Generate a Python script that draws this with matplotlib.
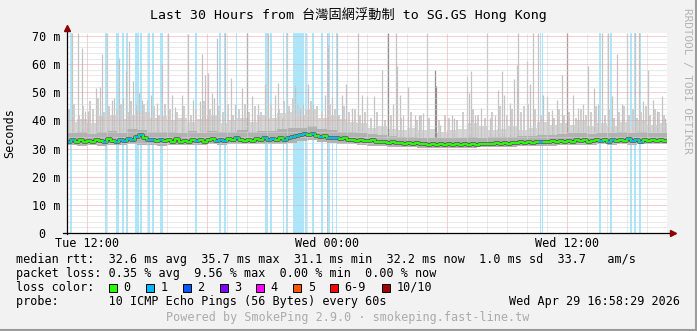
import numpy as np
import matplotlib
matplotlib.use("Agg")
import matplotlib.pyplot as plt
from matplotlib.patches import Rectangle

W, H = 697, 331
MONO = "DejaVu Sans Mono"

# hours since Tue 11:00, 30 h window
median_rtt = [
    32.4, 32.9, 32.3, 33.1, 32.5, 32.8, 32.2, 33.0, 32.6, 32.4, 33.3, 32.7, 32.5,
    33.0, 32.8, 33.4, 32.9, 34.0, 34.8, 33.6, 32.9, 33.2, 32.6, 33.1, 32.7,
    32.9, 32.5, 33.3, 32.4, 32.8, 32.3, 33.0, 32.6, 33.2, 32.5, 32.9, 33.5, 32.8,
    33.1, 32.6, 33.3, 32.9, 33.6, 33.0, 32.7, 33.2, 32.8, 33.5, 33.1, 33.6,
    33.0, 33.4, 32.9, 33.7, 33.2, 33.8, 34.3, 34.6, 34.9, 35.3, 34.8, 35.1, 34.5,
    34.2, 34.4, 33.9, 33.6, 33.9, 33.3, 33.6, 33.0, 33.2, 32.8, 33.1, 32.7,
    32.6, 32.9, 32.4, 32.2, 32.5, 32.0, 32.3, 31.9, 32.1, 31.8, 32.0, 31.6, 31.9,
    31.5, 31.7, 31.4, 31.6, 31.3, 31.5, 31.4, 31.6, 31.3, 31.5, 31.4, 31.6,
    31.4, 31.6, 31.3, 31.7, 31.5, 31.8, 31.6, 31.9, 31.7, 32.0, 31.8, 32.1, 31.9,
    32.2, 32.0, 32.3, 32.1, 32.4, 32.2, 32.5, 32.3, 32.6, 32.4, 32.8, 32.5,
    32.7, 32.4, 32.9, 32.6, 33.0, 32.5, 32.8, 33.1, 32.6, 32.9, 32.4, 33.2, 32.7,
    33.0, 32.6, 33.3, 32.8, 33.1, 32.5, 33.0, 32.7, 33.2, 32.6, 32.9, 32.8,
]

# smoke envelope per half hour
smoke_light_top = [
    39.5, 40.5, 39.0, 41.5, 42.0, 40.5, 42.0, 43.0, 41.0, 41.5,
    40.0, 41.0, 39.5, 40.5, 42.0, 39.0, 40.0, 41.0, 39.5, 42.0,
    41.0, 42.5, 43.0, 42.0, 44.0, 41.0, 42.0, 40.5, 39.5, 39.0,
    37.5, 38.0, 37.0, 36.5, 37.5, 36.5, 37.0, 36.0, 36.5, 37.0,
    39.0, 38.0, 36.5, 37.0, 38.0, 36.5, 37.5, 39.5, 38.5, 39.0,
    38.5, 40.0, 38.0, 39.0, 38.0, 39.5, 38.0, 40.0, 38.5, 39.0,
]
smoke_mid_top = [
    35.5, 35.8, 35.2, 36.0, 36.2, 35.6, 37.0, 36.5, 35.8, 36.0,
    36.0, 35.5, 36.2, 35.7, 36.4, 35.8, 36.0, 36.5, 35.9, 36.4,
    36.2, 36.8, 37.2, 37.5, 38.0, 37.0, 36.5, 36.0, 35.8, 35.5,
    35.2, 34.8, 34.5, 34.2, 34.0, 33.8, 33.9, 33.7, 33.8, 33.9,
    34.0, 33.9, 34.1, 34.3, 34.2, 34.5, 34.6, 34.8, 35.0, 35.2,
    35.4, 35.6, 35.3, 35.7, 35.5, 35.8, 35.4, 35.9, 35.6, 35.7,
]
smoke_low = [
    31.2, 31.0, 31.3, 31.1, 31.2, 31.4, 31.5, 31.2, 31.3, 31.1,
    31.3, 31.2, 31.4, 31.3, 31.5, 31.4, 31.5, 31.6, 31.5, 31.7,
    31.6, 31.8, 32.0, 32.6, 33.0, 32.5, 32.0, 31.7, 31.5, 31.3,
    31.1, 30.9, 30.7, 30.6, 30.4, 30.3, 30.3, 30.2, 30.3, 30.2,
    30.3, 30.4, 30.4, 30.6, 30.7, 30.8, 30.9, 31.0, 31.1, 31.2,
    31.3, 31.4, 31.3, 31.5, 31.4, 31.5, 31.4, 31.6, 31.5, 31.5,
]

# moderate smoke tops
grass_h = [
    0.10, 0.35, 0.62, 0.82, 1.15, 1.30, 1.55, 1.85, 2.10, 2.50, 2.70, 3.05, 3.20,
    3.50, 3.85, 4.10, 4.35, 4.60, 4.90, 5.15, 5.50, 5.85, 6.20, 6.45, 6.85, 7.15,
    7.60, 7.80, 8.05, 8.30, 8.60, 8.90, 9.10, 9.40, 9.70, 10.20, 10.60, 10.85,
    11.10, 11.30, 11.55, 11.95, 12.20, 12.50, 12.75, 13.15, 13.40, 13.60, 13.85,
    14.10, 14.40, 14.65, 14.90,
    15.20, 15.50, 15.90, 16.20, 16.70, 17.20, 17.50, 17.70, 18.10, 18.60, 18.90,
    19.10, 19.50, 19.80, 20.30, 20.55, 20.90, 21.25, 21.65, 22.00, 22.25, 22.70,
    22.85, 23.05, 23.40, 23.70, 24.10, 24.35, 24.60, 24.85, 25.10, 25.45, 25.70,
    25.95, 26.20, 26.45, 26.90, 27.10, 27.35, 27.60, 27.85, 28.10, 28.30, 28.50,
    28.70, 28.95, 29.15, 29.40, 29.60, 29.85,
]
grass_top = [
    44, 46, 42, 45, 47, 44, 48, 43, 45, 44, 46, 43, 47,
    44, 46, 43, 45, 42, 46, 44, 43, 45, 42, 44, 47, 44,
    45, 43, 46, 42, 44, 46, 43, 45, 43, 46, 44, 47,
    45, 48, 46, 44, 47, 45, 43, 46, 44, 42, 45,
    43, 44, 42, 43,
    41, 43, 40, 42, 41, 43, 40, 42, 41, 40, 42,
    41, 40, 43, 44, 42, 41, 43, 45, 42, 44, 43,
    45, 46, 44, 42, 43, 41, 44, 42, 43, 41, 44,
    42, 43, 45, 42, 44, 41, 43, 45, 42, 44, 41,
    43, 45, 42, 44, 43, 42,
]

# single high pings
spike_h = [
    0.24, 0.54, 0.74, 0.90, 1.05, 1.45, 1.65, 1.74, 1.99, 2.24, 2.35, 2.60, 2.80,
    2.94, 3.10, 3.30, 3.44, 3.60, 3.74, 3.99, 4.20, 4.49, 4.75, 5.04, 5.24, 5.40,
    5.74, 6.04, 6.32, 6.65, 6.75, 6.90, 7.07, 7.24, 7.37,
    7.49, 7.90, 8.20, 8.40, 8.74, 9.24, 9.54, 9.90, 10.04, 10.40, 10.54, 10.74,
    10.99, 11.40, 11.65, 11.82, 12.05, 12.32, 12.90, 13.04, 13.27, 13.49, 13.74,
    13.94, 14.24, 14.54, 14.74,
    14.99, 15.37, 15.74, 16.32, 16.44, 16.52, 16.65, 16.82, 17.04, 17.40, 17.62,
    17.82, 17.99, 18.65, 19.24, 19.37, 19.99, 20.10, 20.20, 20.40, 20.70, 21.00,
    21.15, 21.40, 21.57, 21.74, 21.87, 22.15, 22.35,
    22.49, 22.57, 22.99, 23.15, 23.32, 23.54, 23.82, 23.99, 24.24, 24.49, 24.74,
    25.32, 25.57, 25.82, 26.07, 26.37, 26.57, 26.77, 27.04, 27.24, 27.49, 27.74,
    27.99, 28.40, 28.60, 28.82, 29.04, 29.32, 29.49, 29.74, 29.90,
]
spike_top = [
    71, 71, 65.8, 43.4, 43.3, 51.6, 52.0, 63.5, 71, 47.4, 48.0, 62.3, 48.0,
    57.5, 68.2, 54.0, 45.7, 49.8, 47.4, 47.4, 49.2, 46.3, 59.9, 71, 49.2, 44.9,
    49.2, 70.6, 47.4, 46.9, 63.5, 56.0, 56.9, 49.8, 48.0,
    69.4, 71, 55.2, 45.7, 51.6, 48.6, 45.7, 52.8, 71, 49.2, 53.4, 40.9,
    71, 52.2, 44.5, 45.7, 53.1, 45.7, 49.2, 67.0, 48.0, 71, 49.2,
    52.8, 44.5, 71, 49.2,
    48.6, 48.6, 58.1, 45.7, 71, 59.3, 49.2, 42.1, 51.9, 42.1, 42.1,
    42.7, 71, 38.5, 42.1, 40.9, 55.7, 49.8, 57.5, 42.1, 44.5, 71,
    40.9, 42.1, 50.8, 57.5, 49.2, 46.3, 54.6,
    59.9, 71, 61.1, 52.8, 71, 71, 49.2, 48.6, 43.9, 47.4, 56.3,
    49.2, 44.5, 45.7, 59.3, 51.6, 45.7, 71, 71, 48.6, 63.5, 45.7,
    71, 71, 71, 46.9, 58.1, 47.4, 43.3, 48.6, 40.9,
]
# spikes with several high pings (darker smoke)
dark_h = [9.02, 16.04, 18.40, 18.45, 24.99]
dark_top = [71, 71, 58.1, 52.2, 71]

# loss periods (1/10 lost)
loss_start = [0.15, 1.90, 2.45, 2.75, 2.95, 3.40, 3.65, 4.05, 4.25, 4.65, 6.40,
              7.60, 7.85, 8.45, 9.90, 10.15, 10.80, 10.95, 11.30, 11.90, 12.25,
              12.70, 13.00, 13.25, 13.45, 23.65, 23.75, 26.60, 27.15, 28.15,
              28.35, 28.60]
loss_end = [0.25, 2.00, 2.60, 2.85, 3.05, 3.60, 3.75, 4.15, 4.35, 4.80, 6.50,
            7.70, 7.95, 8.50, 10.05, 10.25, 10.85, 11.05, 11.85, 12.00, 12.35,
            12.80, 13.15, 13.30, 13.50, 23.70, 23.80, 26.70, 27.25, 28.25,
            28.45, 28.70]

loss_labels = ["0", "1", "2", "3", "4", "5", "6-9", "10/10"]
loss_colors = ["#26ff00", "#00b8ff", "#0059ff", "#7e00ff", "#ff00ff",
               "#ff5500", "#ff0000", "#a10000"]

xtick_pos = [1, 7, 13, 19, 25]
xtick_labels = ["Tue 12:00", "", "Wed 00:00", "", "Wed 12:00"]
ytick_pos = [0, 10, 20, 30, 40, 50, 60, 70]
ytick_labels = ["0  ", "10 m", "20 m", "30 m", "40 m", "50 m", "60 m", "70 m"]

# -----------------------------
# FIGURE
# -----------------------------
fig = plt.figure(figsize=(W / 100, H / 100), dpi=100, facecolor="#f2f2f2")
ax = fig.add_axes([67 / W, 98 / H, 600 / W, 200 / H])
ax.set_facecolor("white")

for s, e in zip(loss_start, loss_end):
    ax.axvspan(s, e, color="#aae7fc", lw=0, zorder=0.2)

t_bins = np.arange(len(smoke_low)) * 0.5
t_edge = np.append(t_bins, 30)
ax.fill_between(t_edge, np.append(smoke_low, smoke_low[-1]),
                np.append(smoke_light_top, smoke_light_top[-1]),
                step="post", color="#d6d6d6", lw=0, zorder=2)
ax.vlines(grass_h, 33, grass_top, color="#cdcdcd", lw=1.4, zorder=2.05)
ax.vlines(spike_h, 33, spike_top, color="#c2c2c2", lw=0.9, zorder=2.1)
ax.vlines(dark_h, 33, dark_top, color="#8f8f8f", lw=0.9, zorder=2.2)
ax.fill_between(t_edge, np.append(smoke_low, smoke_low[-1]),
                np.append(smoke_mid_top, smoke_mid_top[-1]),
                step="post", color="#b2b2b2", lw=0, zorder=2.3)

t_med = np.arange(len(median_rtt)) * 0.2
med = np.array(median_rtt)
ax.plot(np.append(t_med, 30), np.append(med, med[-1]), drawstyle="steps-post",
        color="#555555", lw=2.6, zorder=3)
ax.plot(np.append(t_med, 30), np.append(med, med[-1]), drawstyle="steps-post",
        color=loss_colors[0], lw=1.5, zorder=3.1)

ls = np.array(loss_start)
le = np.array(loss_end)
lossy = np.array([np.any((t < le) & (t + 0.2 > ls)) for t in t_med])
ax.hlines(med[lossy], t_med[lossy], t_med[lossy] + 0.2,
          color=loss_colors[1], lw=1.5, zorder=3.2)

ax.set_xlim(0, 30)
ax.set_ylim(0, 71.1)

ax.set_xticks(xtick_pos)
ax.set_xticklabels(xtick_labels, fontfamily=MONO, fontsize=8.5)
ax.set_xticks([h for h in range(31) if h not in xtick_pos], minor=True)
ax.set_yticks(ytick_pos)
ax.set_yticklabels(ytick_labels, fontfamily=MONO, fontsize=8.5)
ax.set_yticks(np.arange(0, 72, 2), minor=True)
ax.tick_params(which="both", length=0)
ax.tick_params(axis="x", pad=3)
ax.tick_params(axis="y", pad=5)

ax.set_axisbelow(False)
ax.grid(which="minor", color="#d4d4d4", linestyle=(0, (1, 1)), lw=0.72)
ax.grid(which="major", color="#e9a0a0", linestyle=(0, (1, 1)), lw=0.72)
for gl in ax.get_xgridlines() + ax.get_ygridlines():
    gl.set_zorder(1)

for sp in ax.spines.values():
    sp.set_visible(False)

# axes with arrows
ax.plot([0, 0], [-0.005, 1.02], transform=ax.transAxes, color="black",
        lw=0.9, clip_on=False, zorder=5)
ax.plot([-4 / 600, 1.005], [0, 0], transform=ax.transAxes, color="black",
        lw=0.9, clip_on=False, zorder=5)
ax.plot([0], [1.027], transform=ax.transAxes, marker="^", color="#8b0000",
        ms=4.5, clip_on=False, zorder=6)
ax.plot([1.01], [0], transform=ax.transAxes, marker=">", color="#8b0000",
        ms=4.5, clip_on=False, zorder=6)


def fx(x):
    return x / W


def fy(y):
    return 1 - y / H


fig.text(fx(348), fy(15), "Last 30 Hours from 台灣固網浮動制 to SG.GS Hong Kong",
         family=[MONO, "Noto Sans CJK TC"], fontsize=9.5, ha="center", va="center")
fig.text(fx(10), fy(133), "Seconds", family=MONO, fontsize=8.5, rotation=90,
         ha="center", va="center")
fig.text(fx(687), fy(81), "RRDTOOL / TOBI OETIKER", family=MONO, fontsize=7.9,
         rotation=270, ha="center", va="center", color="#b4b4b4")

fig.text(fx(16), fy(260),
         "median rtt:  32.6 ms avg  35.7 ms max  31.1 ms min  32.2 ms now  1.0 ms sd  33.7   am/s",
         family=MONO, fontsize=8.5, va="center")
fig.text(fx(16), fy(273.5),
         "packet loss: 0.35 % avg  9.56 % max  0.00 % min  0.00 % now",
         family=MONO, fontsize=8.5, va="center")
fig.text(fx(16), fy(287.5), "loss color:", family=MONO, fontsize=8.5, va="center")

box_x = [108.7, 145.7, 182.5, 219.5, 256.3, 293.3, 330.2, 381.7]
for bx, lab, col in zip(box_x, loss_labels, loss_colors):
    fig.patches.append(Rectangle((fx(bx), fy(291.5)), 8 / W, 8 / H,
                                 transform=fig.transFigure, facecolor=col,
                                 edgecolor="black", lw=0.7))
    fig.text(fx(bx + 14.5), fy(287.5), lab, family=MONO, fontsize=8.5, va="center")

fig.text(fx(16), fy(301), "probe:       10 ICMP Echo Pings (56 Bytes) every 60s",
         family=MONO, fontsize=8.5, va="center")
fig.text(fx(680), fy(301), "Wed Apr 29 16:58:29 2026", family=MONO,
         fontsize=8.5, va="center", ha="right")
fig.text(fx(348), fy(318), "Powered by SmokePing 2.9.0 · smokeping.fast-line.tw",
         family=MONO, fontsize=8.5, va="center", ha="center", color="#ababab")

# frame edges
fig.add_artist(plt.Line2D([0, 1], [1 / H, 1 / H], transform=fig.transFigure,
                          color="#9c9c9c", lw=1.5))
fig.add_artist(plt.Line2D([1 - 1 / W, 1 - 1 / W], [0, 1], transform=fig.transFigure,
                          color="#9c9c9c", lw=1.5))

fig.savefig("out.png", dpi=100, facecolor=fig.get_facecolor())
